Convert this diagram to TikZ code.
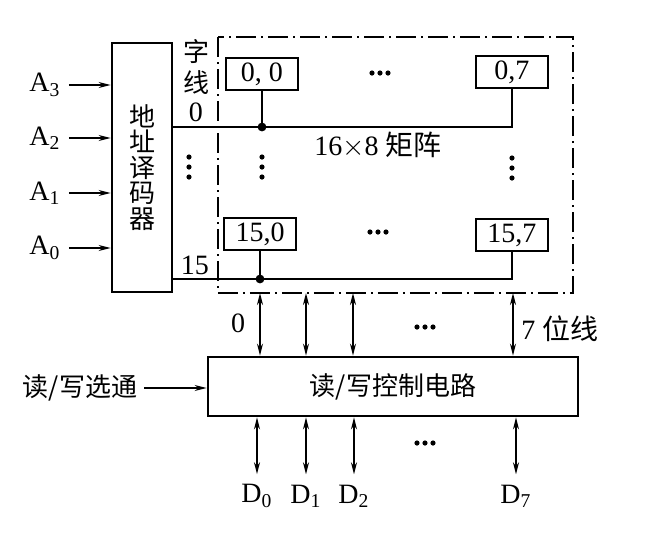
\documentclass[tikz,border=0pt]{standalone}
\usepackage{fontspec}
\setmainfont{Liberation Serif}
\newfontfamily\cjk{Noto Sans CJK SC}
\usetikzlibrary{arrows.meta,positioning}
\tikzset{
  box/.style={draw, line width=1.4pt, inner sep=0pt},
  cell/.style={box, minimum width=36pt, minimum height=16pt, font=\fontsize{14}{16}\selectfont},
  wire/.style={line width=0.8pt},
  sig/.style={wire, -{Stealth[length=6pt,width=3pt]}},
  bus/.style={wire, {Stealth[length=6pt,width=3pt]}-{Stealth[length=6pt,width=3pt]}},
  lbl/.style={font=\fontsize{14}{16}\selectfont, inner sep=1pt},
  hz/.style={font=\cjk\fontsize{13}{15}\selectfont},
  frame/.style={line width=0.6pt, dash pattern=on 10pt off 2.5pt on 1pt off 2.5pt},
}
\begin{document}
\begin{tikzpicture}[x=0.5pt,y=-0.5pt]
\useasboundingbox (0,0) rectangle (650,543);

% address decoder and its inputs
\node[box, minimum width=30pt, minimum height=124.5pt, align=center,
      font=\cjk\fontsize{13}{12.8}\selectfont] (dec) at (142,167.5) {地\\址\\译\\码\\器};
\foreach \i/\y in {3/85,2/138,1/193,0/248}{
  \node[lbl] (a\i) at (45,\y) {A\textsubscript{\i}};
  \draw[sig, shorten <=3pt] (a\i) -- (a\i -| dec.west);
}

% storage matrix
\coordinate (mnw) at (218,37);
\coordinate (mse) at (573,293);
\draw[frame] (mnw) rectangle (mse);
\node[cell] (c00) at (262,74) {0, 0};
\node[cell] (c07) at (512,72) {0,7};
\node[cell] (c150) at (260,234) {15,0};
\node[cell] (c157) at (512,235) {15,7};
\node[lbl] (size) at (378,145) {16$\times$8 {\cjk 矩阵}};

% ellipsis dots
\foreach \p in {(380,73),(378,232),(425,327),(425,443)}
  \foreach \d in {-8,0,8}
    \fill \p ++(\d,0) circle[radius=1.3pt];
\foreach \p in {(189,167),(262,167),(512,168)}
  \foreach \d in {-10,0,10}
    \fill \p ++(0,\d) circle[radius=1.3pt];

% word lines
\node[hz, align=center, font=\cjk\fontsize{13}{15.5}\selectfont] (zx) at (197,67) {字\\线};
\node[lbl] (n0) at (196,112) {0};
\node[lbl] (n15) at (195,265) {15};
\coordinate (w0) at (262,127);
\coordinate (w15) at (260,279);
\draw[wire] (dec.east |- w0) -- (w0) -- (c07.south |- w0) -- (c07.south);
\draw[wire] (c00.south) -- (w0);
\fill (w0) circle[radius=2.2pt];
\draw[wire] (dec.east |- w15) -- (w15) -- (c157.south |- w15) -- (c157.south);
\draw[wire] (c150.south) -- (w15);
\fill (w15) circle[radius=2.2pt];

% read/write control
\node[box, hz, minimum width=185pt, minimum height=29.5pt] (rw) at (393,386.5) {读/写控制电路};
\node[hz] (rwsel) at (80,388) {读/写选通};
\draw[sig] (rwsel) -- (rwsel -| rw.west);

% bit lines
\foreach \x [count=\k] in {260,306,353,513}{
  \coordinate (b\k) at (\x,293);
  \draw[bus] (b\k) -- (b\k |- rw.north);
}
\node[lbl] (bl0) at (238,323) {0};
\node[lbl] (bl7) at (560,329) {7 {\cjk 位线}};

% data lines
\foreach \i/\x in {0/257,1/306,2/354,7/516}{
  \node[lbl] (d\i) at (\x,496) {D\textsubscript{\i}};
  \draw[bus, shorten >=4pt] (d\i |- rw.south) -- (d\i |- d\i.north);
}
\end{tikzpicture}
\end{document}
